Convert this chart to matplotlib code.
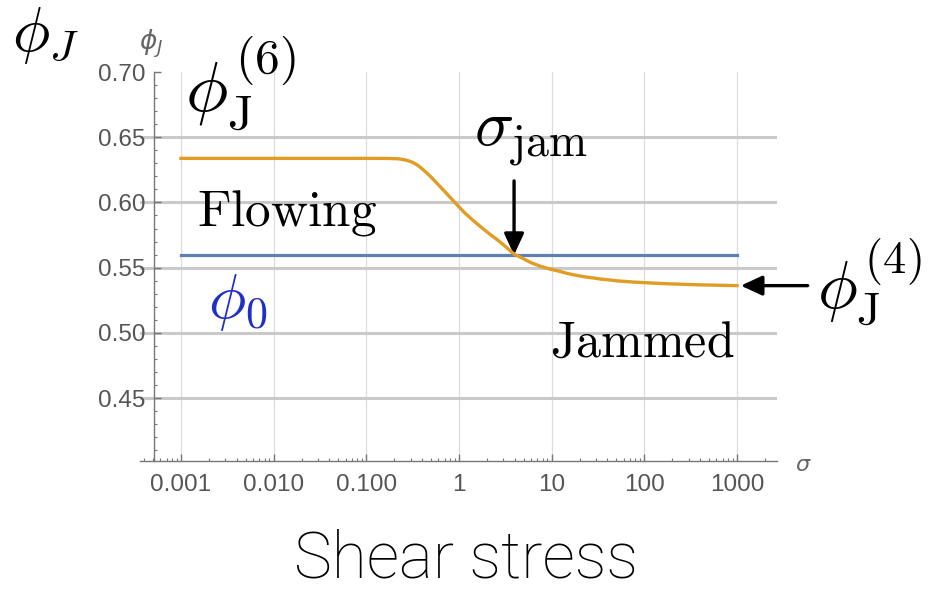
import matplotlib
matplotlib.use("Agg")
import matplotlib.pyplot as plt
from matplotlib.ticker import FixedLocator, MultipleLocator, LogLocator, NullFormatter

plt.rcParams['mathtext.fontset'] = 'cm'

# jamming fraction phi_J vs shear stress
sigma = [0.001, 0.01, 0.05, 0.144, 0.18, 0.219, 0.24, 0.27, 0.30, 0.327, 0.36,
         0.40, 0.44, 0.499, 0.61, 0.761, 0.93, 1.13, 1.4, 1.73, 2.14, 2.64, 3.2,
         3.93, 4.9, 6.0, 7.6, 9.86, 12.0, 15.0, 18.5, 22.4, 28.0, 34.1, 42.0,
         50.0, 60.0, 77.6, 120.0, 181.0, 400.0, 1000.0]
phi_J = [0.6338, 0.6338, 0.6338, 0.6338, 0.6337, 0.6335, 0.6331, 0.6324, 0.6314,
         0.6302, 0.6284, 0.6258, 0.6232, 0.6195, 0.6130, 0.6057, 0.5990, 0.5926,
         0.5866, 0.5811, 0.5758, 0.5709, 0.5660, 0.5604, 0.5570, 0.5538, 0.5510,
         0.5487, 0.5473, 0.5454, 0.5441, 0.5430, 0.5421, 0.5412, 0.5406, 0.5399,
         0.5395, 0.5389, 0.5382, 0.5376, 0.5368, 0.5362]
sigma_range = [0.001, 1000.0]
phi_0 = 0.5597
phi_J4 = 0.5362
sigma_jam = 3.93

xticks = [0.001, 0.01, 0.1, 1, 10, 100, 1000]
xticklabels = ['0.001', '0.010', '0.100', '1', '10', '100', '1000']
yticks = [0.45, 0.50, 0.55, 0.60, 0.65, 0.70]
yticklabels = ['0.45', '0.50', '0.55', '0.60', '0.65', '0.70']

fig = plt.figure(figsize=(9.33, 5.9), dpi=100)
ax = fig.add_axes([0.1501, 0.2186, 0.6827, 0.6593])

ax.set_xscale('log')
ax.set_xlim(10 ** -3.442, 10 ** 3.432)
ax.set_ylim(0.4017, 0.70)

# grid lines, Mathematica style
for v in xticks:
    ax.axvline(v, color='#dddddd', lw=0.9, zorder=0)
for v in yticks[:-1]:
    ax.axhline(v, color='#c9c9c9', lw=2.2, zorder=0)

ax.plot(sigma_range, [phi_0, phi_0], color='#5E81B5', lw=2.3, zorder=3)
ax.plot(sigma, phi_J, color='#E19C24', lw=2.4, zorder=4)

for s in ['top', 'right']:
    ax.spines[s].set_visible(False)
ax.spines['left'].set_position(('data', 10 ** -3.291))
ax.spines['left'].set_bounds(0.4017, 0.70)
for s in ['left', 'bottom']:
    ax.spines[s].set_color('#777777')
    ax.spines[s].set_linewidth(1.0)

ax.xaxis.set_major_locator(FixedLocator(xticks))
ax.set_xticklabels(xticklabels)
ax.xaxis.set_minor_locator(LogLocator(base=10, subs=range(2, 10), numticks=30))
ax.xaxis.set_minor_formatter(NullFormatter())
ax.yaxis.set_major_locator(FixedLocator(yticks))
ax.set_yticklabels(yticklabels)
ax.yaxis.set_minor_locator(MultipleLocator(0.01))

ax.tick_params(which='both', direction='in', colors='#777777', labelcolor='#555555',
               labelsize=17.5)
ax.tick_params(which='major', length=5, width=1.0)
ax.tick_params(which='minor', length=2.5, width=0.8)
ax.tick_params(axis='x', pad=9)
ax.tick_params(axis='y', pad=6)
for lab in ax.get_xticklabels() + ax.get_yticklabels():
    lab.set_family('Liberation Sans')

# small axis labels
fig.text(139 / 933, 1 - 50 / 590, r'$\phi_J$', fontsize=19, color='#666666',
         math_fontfamily='dejavusans')
fig.text(795 / 933, 1 - 471 / 590, r'$\sigma$', fontsize=16, color='#666666',
         math_fontfamily='dejavusans')

# big annotations
fig.text(12 / 933, 1 - 51 / 590, r'$\phi_J$', fontsize=45, va='baseline')
fig.text(185 / 933, 1 - 113 / 590, r'$\phi_{\rm J}^{(6)}$', fontsize=51, va='baseline')
fig.text(197 / 933, 1 - 226 / 590, r'$\mathrm{Flowing}$', fontsize=37, va='baseline')
fig.text(208 / 933, 1 - 318 / 590, r'$\phi_0$', fontsize=45, va='baseline', color='#1f2fc8')
fig.text(474 / 933, 1 - 145 / 590, r'$\sigma_{\rm jam}$', fontsize=47, va='baseline')
fig.text(550 / 933, 1 - 357 / 590, r'$\mathrm{Jammed}$', fontsize=36, va='baseline')
fig.text(817 / 933, 1 - 309 / 590, r'$\phi_{\rm J}^{(4)}$', fontsize=48, va='baseline')

arrow = dict(arrowstyle='-|>,head_length=1.3,head_width=0.6',
             color='black', lw=2.4, shrinkA=0, shrinkB=0)
ax.annotate('', xy=(sigma_jam, phi_0), xytext=(sigma_jam, 0.6165), arrowprops=arrow)
ax.annotate('', xy=(1100, phi_J4), xytext=(5800, phi_J4), arrowprops=arrow,
            annotation_clip=False)

fig.text(0.5, 1 - 578 / 590, 'Shear stress', fontsize=46, ha='center', va='baseline',
         family='Roboto', fontweight='light')

fig.savefig('out.png', dpi=100)
